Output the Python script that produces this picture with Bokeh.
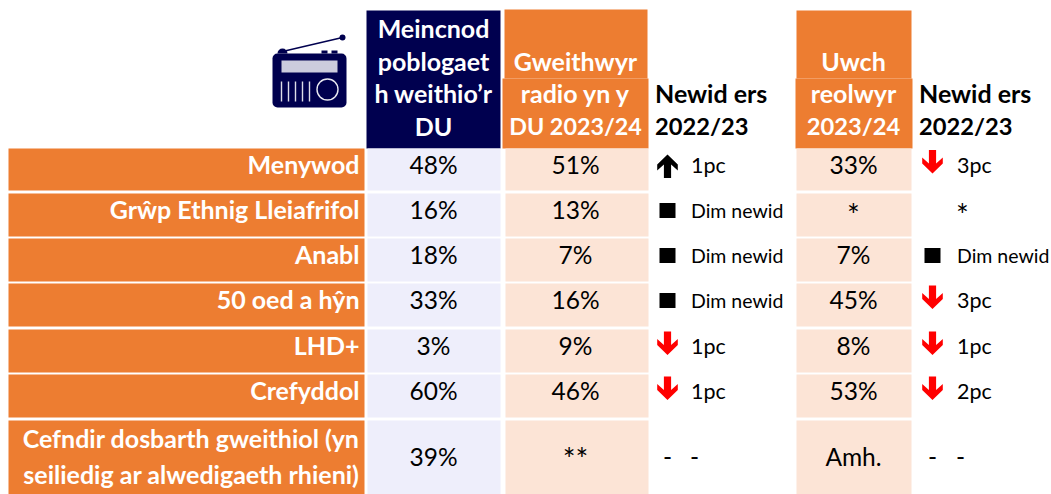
from bokeh.plotting import figure
from bokeh.embed import file_html
from bokeh.resources import INLINE
from bokeh.core.properties import value

# ---- data ----
categories = ["Menywod", "Grŵp Ethnig Lleiafrifol", "Anabl", "50 oed a hŷn", "LHD+", "Crefyddol"]
last_category = ["Cefndir dosbarth gweithiol (yn", "seiliedig ar alwedigaeth rhieni)"]
benchmark = ["48%", "16%", "18%", "33%", "3%", "60%", "39%"]
radio_workers = ["51%", "13%", "7%", "16%", "9%", "46%", "**"]
radio_change = ["1pc", "Dim newid", "Dim newid", "Dim newid", "1pc", "1pc", ""]
radio_dir = ["up", "same", "same", "same", "down", "down", "dash"]
senior = ["33%", "*", "7%", "45%", "8%", "53%", "Amh."]
senior_change = ["3pc", "*", "Dim newid", "3pc", "1pc", "2pc", ""]
senior_dir = ["down", "none", "same", "down", "down", "down", "dash"]
head_bench = ["Meincnod", "poblogaet", "h weithio’r", "DU"]
head_radio = ["Gweithwyr", "radio yn y", "DU 2023/24"]
head_senior = ["Uwch", "reolwyr", "2023/24"]
head_change = ["Newid ers", "2022/23"]

# ---- layout (pixels of the picture) ----
ORANGE, NAVY, LILAC, PEACH = "#ED7D31", "#00004F", "#EEEEFB", "#FCE4D6"
F = value("Lato")
tops = [148, 193, 238, 283, 329, 374, 420]
bots = [190, 236, 281, 326, 372, 417, 494]
mids = [(a + b) / 2 - 1 for a, b in zip(tops, bots)]
text_mids = [m - 4.5 for m in mids]
text_mids[-1] = 456

p = figure(width=1051, height=494, x_range=(0, 1051), y_range=(494, 0),
           output_backend="svg", toolbar_location=None, min_border=0,
           margin=(0, 0, 0, 0))
p.xaxis.visible = False
p.yaxis.visible = False
p.grid.visible = False
p.outline_line_color = None
p.background_fill_color = "white"


def txt(x, y, s, size, color="black", bold=False, align="center"):
    p.text([x], [y], text=[s], text_font=F, text_font_size=f"{size}px",
           text_color=color, text_align=align, text_baseline="middle",
           text_font_style="bold" if bold else "normal")


def box(l, r, t, b, c):
    p.quad(left=[l], right=[r], top=[t], bottom=[b], fill_color=c, line_color=None)


def arrow(cx, y0, s, c):
    # y0 is the tip, s = +1 when the arrow points down the page, -1 when it points up
    h, sh = 10.3, 3.6
    xs = [cx, cx + h, cx + h, cx + sh, cx + sh, cx - sh, cx - sh, cx - h, cx - h]
    ys = [y0, y0 - s * 10, y0 - s * 16, y0 - s * 10, y0 - s * 23.5,
          y0 - s * 23.5, y0 - s * 10, y0 - s * 16, y0 - s * 10]
    p.patch(xs, ys, fill_color=c, line_color=None)


def status(kind, cx, mid):
    if kind == "up":
        arrow(cx, mid - 14, -1, "black")
    elif kind == "down":
        arrow(cx, mid + 5, 1, "#FF0000")
    elif kind == "same":
        box(cx - 8, cx + 8, mid - 11, mid + 4, "black")


# headers
box(366, 500, 10, 148, NAVY)
box(504, 647, 9, 78, ORANGE)
box(502, 648, 78, 148, ORANGE)
box(796, 911, 10, 78, ORANGE)
box(795, 912, 78, 148, ORANGE)
for y, s in zip([27, 60, 92, 125], head_bench):
    txt(433, y, s, 25, "white", True)
for y, s, z in zip([60, 92, 125], head_radio, [25, 25, 23.3]):
    txt(575, y, s, z, "white", True)
for y, s, z in zip([60, 92, 125], head_senior, [25, 25, 23.7]):
    txt(853, y, s, z, "white", True)
for x in (654.5, 918.5):
    for y, s, z in zip([92, 125], head_change, [25, 23.7]):
        txt(x, y, s, z, "black", True, "left")

# rows
for i, (t, b, m, tm) in enumerate(zip(tops, bots, mids, text_mids)):
    box(8, 364, t, b, ORANGE)
    box(367, 500, t, b, LILAC)
    box(505, 648, t, b, PEACH)
    box(796, 911, t, b, PEACH)
    if i < len(categories):
        txt(359, tm - 0.5, categories[i], 25, "white", True, "right")
    txt(433, tm, benchmark[i], 24.5)
    if radio_workers[i] == "**":
        txt(575, 457, radio_workers[i], 30)
    else:
        txt(575, tm, radio_workers[i], 24.5)
    if senior[i] == "*":
        txt(853, 213, senior[i], 30)
    else:
        txt(853, tm, senior[i], 24.5)
    status(radio_dir[i], 667, m)
    status(senior_dir[i], 932, m)
    z = 19.5 if radio_change[i].startswith("Dim") else 21.5
    txt(690.5, tm + 0.5, radio_change[i], z, align="left")
    if senior_change[i] == "*":
        txt(962, 213, "*", 30)
    else:
        z = 19.5 if senior_change[i].startswith("Dim") else 21.5
        txt(956.5, tm + 0.5, senior_change[i], z, align="left")
    if radio_dir[i] == "dash":
        for x in (667, 694):
            txt(x, tm, "-", 24.5)
    if senior_dir[i] == "dash":
        for x in (932, 960):
            txt(x, tm, "-", 24.5)
for y, s in zip([437, 473], last_category):
    txt(359, y, s, 25, "white", True, "right")

# radio icon
p.quad(left=[272], right=[346], top=[53], bottom=[107], fill_color=NAVY, line_color=None, border_radius=5)
box(281, 337, 60, 72, "#CCCCDD")
p.segment([282], [51], [342], [37], line_color=NAVY, line_width=1.6)
p.scatter([342], [37], size=6, fill_color=NAVY, line_color=None)
p.wedge([282], [53], radius=5, start_angle=0, end_angle=3.14159, fill_color=NAVY, line_color=None)
box(321, 327, 50, 53, NAVY)
box(331, 337, 50, 53, NAVY)
p.segment([281, 288, 295, 302, 309], [81] * 5, [281, 288, 295, 302, 309], [101] * 5,
          line_color="#DDDDE8", line_width=1.4)
p.scatter([327], [89], size=21, fill_color=None, line_color="#E8E8F0", line_width=1.4)

open("out.html", "w").write(file_html(p, INLINE))
